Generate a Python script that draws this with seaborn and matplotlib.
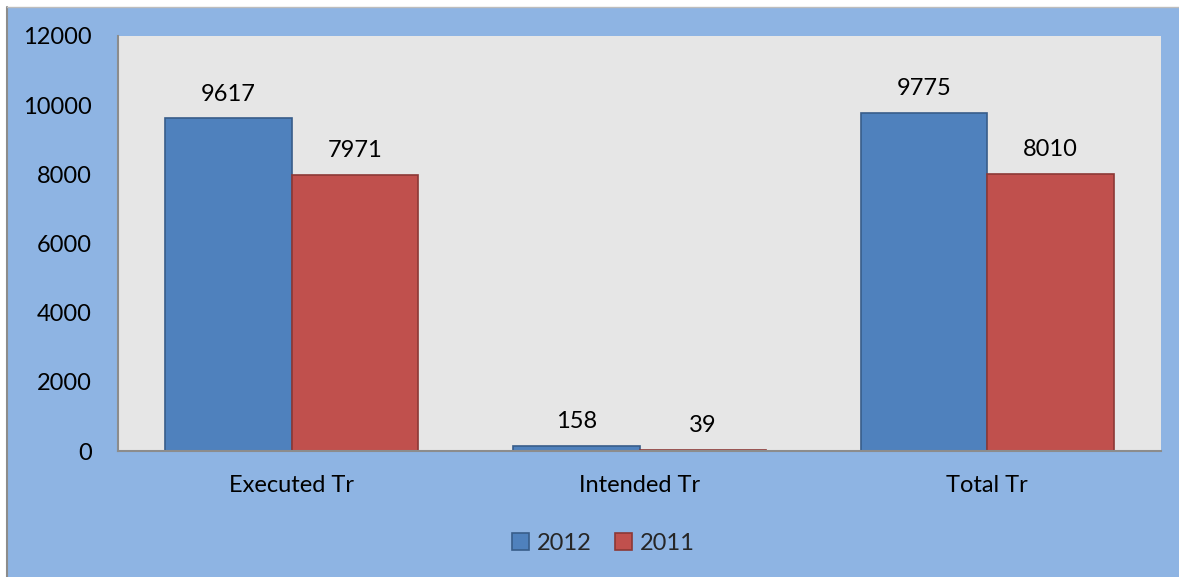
import matplotlib
matplotlib.use("Agg")
import matplotlib.pyplot as plt
import seaborn as sns
import pandas as pd
from matplotlib.patches import Rectangle, Patch

categories = ["Executed Tr", "Intended Tr", "Total Tr"]
years = ["2012", "2011"]
values_2012 = [9617, 158, 9775]
values_2011 = [7971, 39, 8010]
y_ticks = [0, 2000, 4000, 6000, 8000, 10000, 12000]

face_colors = ["#4F81BD", "#C0504D"]
edge_colors = ["#385D8A", "#8C3836"]

df = pd.DataFrame({
    "cat": categories * 2,
    "year": [years[0]] * 3 + [years[1]] * 3,
    "val": values_2012 + values_2011,
})

sns.set_theme(style="white")
plt.rcParams["font.family"] = ["Lato", "DejaVu Sans"]

FS = 17
W, H = 1179, 577
fig = plt.figure(figsize=(W / 100, H / 100), dpi=100)
fig.patch.set_facecolor("white")
bg = Rectangle((8 / W, 0), 1 - 8 / W, 1 - 7 / H, transform=fig.transFigure,
               facecolor="#8EB4E3", edgecolor="none", zorder=-10)
fig.patches.append(bg)
fig.add_artist(plt.Line2D([7.5 / W, 7.5 / W], [0, 1 - 7 / H], transform=fig.transFigure,
                          color="#8C8C8C", lw=1.5, zorder=-5))
fig.add_artist(plt.Line2D([7.5 / W, 1], [1 - 7 / H, 1 - 7 / H], transform=fig.transFigure,
                          color="#BDBDBD", lw=1, zorder=-5))

ax = fig.add_axes([118 / W, 1 - 451 / H, 1043 / W, 415 / H])
ax.set_zorder(5)
ax.set_facecolor("#E6E6E6")

sns.barplot(data=df, x="cat", y="val", hue="year", hue_order=years,
            palette=face_colors, saturation=1, width=0.728, ax=ax,
            legend=False, errorbar=None)

for i, cont in enumerate(ax.containers):
    for p in cont:
        p.set_edgecolor(edge_colors[i])
        p.set_linewidth(1.2)
    ax.bar_label(cont, labels=[str(int(v)) for v in cont.datavalues],
                 padding=10, fontsize=FS, color="black")

ax.set_xlim(-0.5, 2.5)
ax.set_ylim(0, 12000)
ax.set_yticks(y_ticks)
ax.set_yticklabels([str(t) for t in y_ticks])
ax.set_xlabel("")
ax.set_ylabel("")
ax.tick_params(axis="y", length=0, pad=19, labelsize=FS, colors="black")
ax.tick_params(axis="x", length=0, pad=17, labelsize=FS, colors="black")
for s in ["top", "right"]:
    ax.spines[s].set_visible(False)
for s in ["left", "bottom"]:
    ax.spines[s].set_visible(True)
    ax.spines[s].set_color("#8C8C8C")
    ax.spines[s].set_linewidth(1.5)

handles = [Patch(facecolor=face_colors[i], edgecolor=edge_colors[i], lw=1.2, label=years[i])
           for i in range(2)]
leg = fig.legend(handles=handles, loc="center", bbox_to_anchor=(603 / W, 1 - 543 / H),
                 ncol=2, frameon=False, fontsize=FS, handlelength=0.75, handleheight=0.75,
                 handletextpad=0.3, columnspacing=1.0)

fig.savefig("out.png", dpi=100, facecolor=fig.get_facecolor())
